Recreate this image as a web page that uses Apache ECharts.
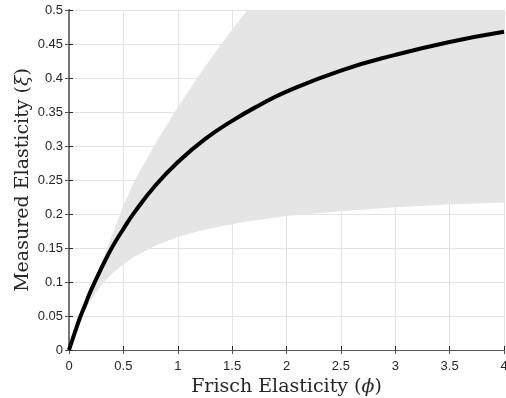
<!DOCTYPE html>
<html>
<head>
<meta charset="utf-8">
<script src="https://cdn.jsdelivr.net/npm/echarts@6/dist/echarts.min.js"></script>
<style>
html, body { margin: 0; padding: 0; background: #fff; }
#main { width: 506px; height: 398px; }
</style>
</head>
<body>
<div id="main"></div>
<script>
// Frisch elasticity values for the black curve
const phiLine = [0, 0.05, 0.1, 0.15, 0.2, 0.3, 0.4, 0.5, 0.6, 0.8, 1, 1.25, 1.5, 1.75, 2, 2.5, 3, 3.5, 4];
const xiLine = [0, 0.024, 0.047, 0.067, 0.087, 0.121, 0.152, 0.178, 0.202, 0.243, 0.276, 0.31, 0.337, 0.36, 0.38, 0.411, 0.434, 0.453, 0.468];

// shaded band (lower / upper edge), upper edge leaves the plot at top
const phiBand = [0, 0.1, 0.2, 0.3, 0.4, 0.5, 0.6, 0.8, 1, 1.2, 1.4, 1.64, 2, 2.5, 3, 3.5, 4];
const bandLow = [0, 0.0435, 0.074, 0.096, 0.113, 0.126, 0.137, 0.154, 0.166, 0.175, 0.182, 0.189, 0.197, 0.204, 0.21, 0.214, 0.217];
const bandHigh = [0, 0.05, 0.092, 0.128, 0.171, 0.212, 0.248, 0.305, 0.357, 0.405, 0.45, 0.5, 0.5, 0.5, 0.5, 0.5, 0.5];

const xTicks = { min: 0, max: 4, interval: 0.5 };
const yTicks = { min: 0, max: 0.5, interval: 0.05 };

var chart = echarts.init(document.getElementById('main'));

const linePts = phiLine.map((p, i) => [p, xiLine[i]]);

const lblFont = { color: '#262626', fontFamily: 'Liberation Sans, Arial, sans-serif', fontSize: 13 };
const nameFont = {
  color: '#262626', fontFamily: 'DejaVu Serif, serif', fontSize: 19,
  rich: { i: { fontFamily: 'DejaVu Serif, serif', fontStyle: 'italic', fontSize: 19, color: '#262626' } }
};

// band polygon: upper edge forward, lower edge back
function drawBand(params, api) {
  let pts = [];
  for (let i = 0; i < phiBand.length; i++) pts.push(api.coord([phiBand[i], bandHigh[i]]));
  for (let i = phiBand.length - 1; i >= 0; i--) pts.push(api.coord([phiBand[i], bandLow[i]]));
  return {
    type: 'polygon',
    shape: { points: pts },
    style: { fill: '#e5e5e5', stroke: null }
  };
}

option = {
  animation: false,
  grid: { left: 69, right: 2, top: 10, bottom: 48, containLabel: false, outerBoundsMode: 'none' },
  xAxis: [{
    type: 'value', min: xTicks.min, max: xTicks.max, interval: xTicks.interval,
    name: 'Frisch Elasticity ({i|ϕ})', nameLocation: 'middle', nameGap: 24,
    nameTextStyle: nameFont,
    axisLine: { show: true, lineStyle: { color: '#262626', width: 1 } },
    axisTick: { show: true, inside: true, length: 4, lineStyle: { color: '#262626' } },
    axisLabel: Object.assign({ margin: 10 }, lblFont),
    splitLine: { show: true, lineStyle: { color: '#e3e3e3', width: 1 } }
  }, {
    type: 'value', position: 'top', min: xTicks.min, max: xTicks.max, interval: xTicks.interval,
    axisLine: { show: true, lineStyle: { color: '#555', width: 1 } },
    axisTick: { show: true, inside: true, length: 4, lineStyle: { color: '#555' } },
    axisLabel: { show: false }, splitLine: { show: false }
  }],
  yAxis: [{
    type: 'value', min: yTicks.min, max: yTicks.max, interval: yTicks.interval,
    name: 'Measured Elasticity ({i|ξ})', nameLocation: 'middle', nameGap: 36,
    nameMoveOverlap: false,
    nameTextStyle: nameFont,
    axisLine: { show: true, lineStyle: { color: '#262626', width: 1 } },
    axisTick: { show: true, inside: true, length: 4, lineStyle: { color: '#262626' } },
    axisLabel: Object.assign({ margin: 6 }, lblFont),
    splitLine: { show: true, lineStyle: { color: '#e3e3e3', width: 1 } }
  }, {
    type: 'value', position: 'right', min: yTicks.min, max: yTicks.max, interval: yTicks.interval,
    axisLine: { show: true, lineStyle: { color: '#777', width: 2 } },
    axisTick: { show: true, inside: true, length: 4, lineStyle: { color: '#555' } },
    axisLabel: { show: false }, splitLine: { show: false }
  }],
  series: [{
    type: 'custom', renderItem: drawBand, data: [[0, 0]], silent: true, z: 1
  }, {
    type: 'line', data: linePts, symbol: 'none', smooth: true, z: 5,
    lineStyle: { color: '#000', width: 4 }
  }]
};
chart.setOption(option);
</script>
</body>
</html>
